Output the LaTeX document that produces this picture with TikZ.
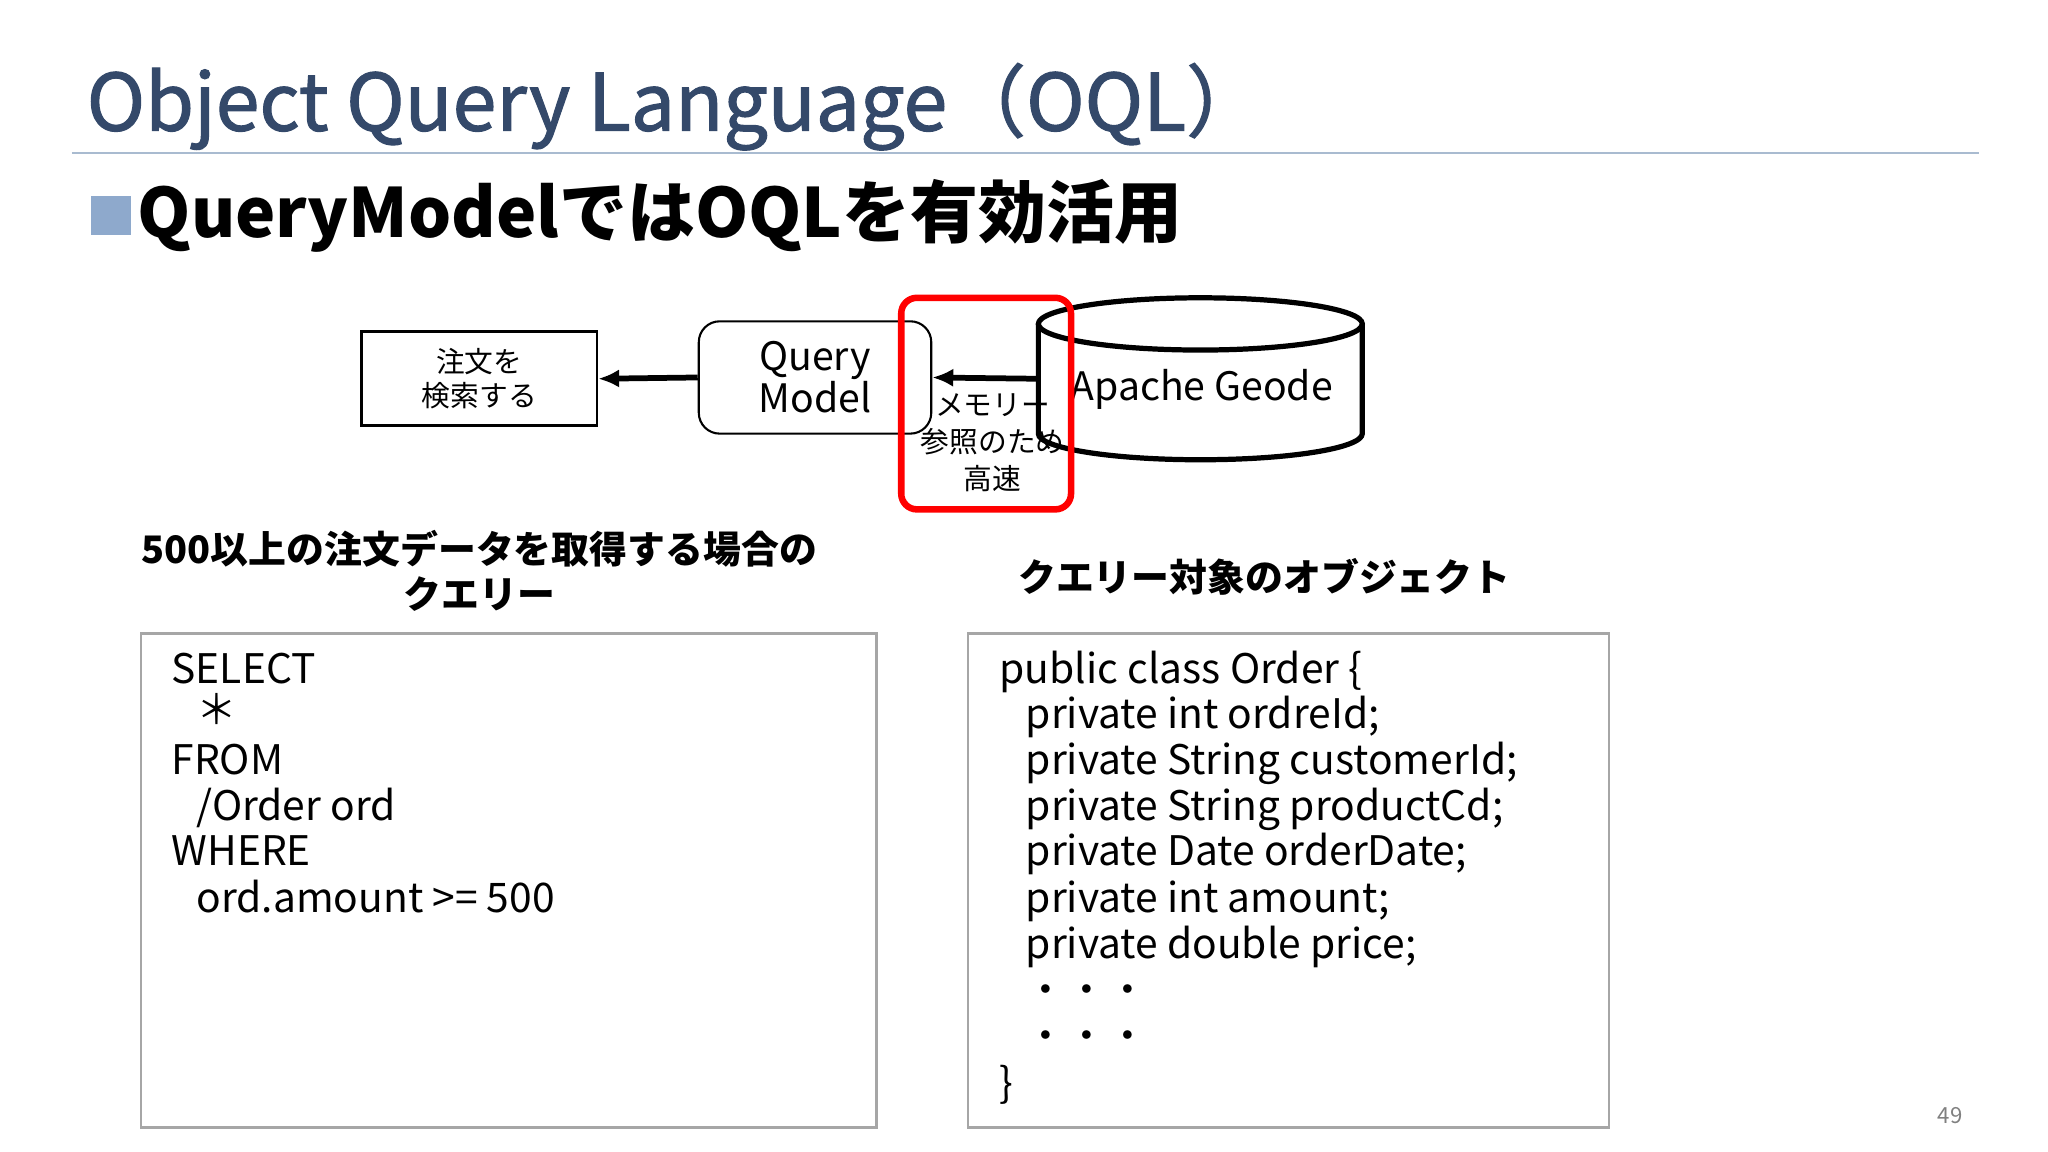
\documentclass[tikz,border=0pt]{standalone}
\usepackage{fontspec}
\setmainfont{Noto Sans CJK JP}
\newfontfamily\titlefont[FakeBold=1.4]{Noto Sans CJK JP}
\usetikzlibrary{arrows.meta,shapes.geometric}
\definecolor{titleblue}{HTML}{34496A}
\definecolor{bulletblue}{HTML}{8EA9CC}
\definecolor{rulec}{HTML}{A9BBD0}
\tikzset{
 codebox/.style={draw=gray!70,line width=1pt},
 codetxt/.style={anchor=base west,inner sep=0pt,font=\fontsize{15.6}{18}\selectfont},
 arr/.style={-{Latex[length=8pt,width=7pt]},line width=2.2pt},
}
\begin{document}
\begin{tikzpicture}[x=0.5pt,y=-0.5pt]
\useasboundingbox[fill=white] (0,0) rectangle (1568,882);
\node[anchor=base west,inner sep=0pt,text=titleblue,font=\titlefont\fontsize{30.2}{36}\selectfont] (title) at (66,100) {Object Query Language（OQL）};
\draw[rulec,line width=0.8pt] (55,117) coordinate (r1) -- (1515,117) coordinate (r2);
\fill[bulletblue] (70,150) rectangle (100,180);
\node[anchor=base west,inner sep=0pt,font=\fontsize{26}{30}\selectfont\bfseries] (sub) at (105,182) {QueryModelではOQLを有効活用};
% diagram
\node[draw,line width=1pt,minimum width=90pt,minimum height=36pt,align=center,font=\fontsize{11}{13}\selectfont] (search) at (367,290) {注文を\\検索する};
\node[draw,rounded corners=8pt,line width=0.8pt,minimum width=89pt,minimum height=43pt,align=center,font=\fontsize{15}{16}\selectfont] (qm) at (624,289) {Query\\Model};
\draw[arr] (qm.west) -- (search.east);
% cylinder
\draw[line width=2pt,fill=white] (795,248) -- (795,332) arc[start angle=180,end angle=360,x radius=124,y radius=-20] -- (1043,248);
\draw[line width=2pt] (919,248) ellipse[x radius=124,y radius=20];
\node[font=\fontsize{15}{18}\selectfont] (geode) at (920,298) {Apache Geode};
\coordinate (cyl) at (795,290);
\draw[arr] (cyl) -- (qm.east);
\node[align=center,font=\fontsize{11}{14}\selectfont,inner sep=0pt] (mem) at (760,339) {メモリー\\参照のため\\高速};
\node[draw=red,line width=2.5pt,rounded corners=6pt,minimum width=65pt,minimum height=81pt] (hl) at (755,309) {};
% headings
\node[align=center,font=\fontsize{14.5}{17.5}\selectfont\bfseries] (h1) at (367,437) {500以上の注文データを取得する場合の\\クエリー};
\node[font=\fontsize{14.5}{17}\selectfont\bfseries] (h2) at (968,442) {クエリー対象のオブジェクト};
% boxes
\draw[codebox] (108,485) rectangle (671,863);
\draw[codebox] (741,485) rectangle (1232,863);
\node[codetxt] at (131,523) {SELECT};
\node[codetxt] at (150,555) {＊};
\node[codetxt] at (131,593) {FROM};
\node[codetxt] at (150,628) {/Order ord};
\node[codetxt] at (131,663) {WHERE};
\node[codetxt] at (150,699) {ord.amount >= 500};
\node[codetxt] at (765,523) {public class Order \{};
\node[codetxt] at (785,558) {private int ordreId;};
\node[codetxt] at (785,593) {private String customerId;};
\node[codetxt] at (785,628) {private String productCd;};
\node[codetxt] at (785,663) {private Date orderDate;};
\node[codetxt] at (785,699) {private int amount;};
\node[codetxt] at (785,734) {private double price;};
\node[codetxt] at (785,769) {・・・};
\node[codetxt] at (785,804) {・・・};
\node[codetxt] at (765,840) {\}};
\node[anchor=base,inner sep=0pt,text=gray,font=\fontsize{8.5}{10}\selectfont] (pg) at (1493,860) {49};
\end{tikzpicture}
\end{document}
